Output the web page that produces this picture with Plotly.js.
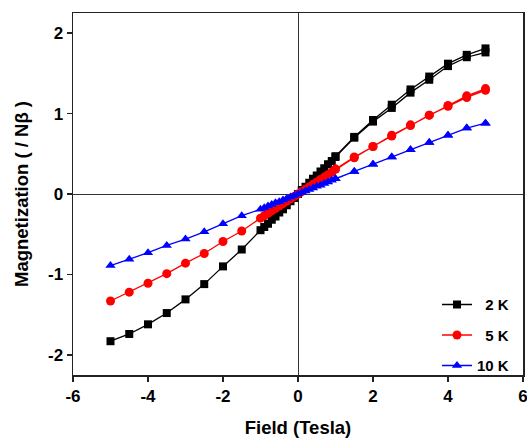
<!DOCTYPE html>
<html>
<head>
<meta charset="utf-8">
<script src="https://cdn.plot.ly/plotly-3.0.1.min.js"></script>
<style>html,body{margin:0;padding:0;background:#fff;}#chart{width:527px;height:438px;}</style>
</head>
<body>
<div id="chart"></div>
<script>
// Field values (Tesla): coarse steps outside |H|<1, fine steps near zero
const fieldUp = [-5,-4.5,-4,-3.5,-3,-2.5,-2,-1.5,-1,-0.9,-0.8,-0.7,-0.6,-0.5,-0.4,-0.3,-0.2,-0.1,0,0.1,0.2,0.3,0.4,0.5,0.6,0.7,0.8,0.9,1,1.5,2,2.5,3,3.5,4,4.5,5];
const fieldBack = [5,4.5,4,3.5,3,2.5,2,1.5,1];

// 2 K
const m2K = [-1.83,-1.74,-1.62,-1.48,-1.31,-1.12,-0.90,-0.69,-0.45,-0.41,-0.37,-0.32,-0.28,-0.23,-0.19,-0.14,-0.09,-0.05,0,0.05,0.09,0.14,0.19,0.23,0.28,0.32,0.37,0.41,0.46,0.70,0.90,1.07,1.26,1.42,1.59,1.70,1.76];
const m2Kback = [1.81,1.73,1.62,1.46,1.30,1.11,0.92,0.71,0.47];
// 5 K
const m5K = [-1.33,-1.22,-1.11,-0.99,-0.86,-0.74,-0.59,-0.46,-0.30,-0.27,-0.24,-0.21,-0.18,-0.15,-0.12,-0.09,-0.06,-0.03,0,0.03,0.06,0.09,0.12,0.15,0.18,0.21,0.24,0.27,0.31,0.45,0.59,0.72,0.85,0.98,1.09,1.20,1.29];
const m5Kback = [1.31,1.22,1.10,0.98,0.86,0.73,0.59,0.46,0.31];
// 10 K
const m10K = [-0.89,-0.81,-0.73,-0.64,-0.56,-0.47,-0.37,-0.27,-0.19,-0.17,-0.15,-0.13,-0.11,-0.095,-0.075,-0.057,-0.038,-0.019,0,0.019,0.038,0.057,0.075,0.095,0.11,0.13,0.15,0.17,0.19,0.28,0.37,0.46,0.55,0.64,0.73,0.82,0.88];
const m10Kback = [0.88,0.82,0.73,0.64,0.55,0.46,0.37,0.28,0.19];

const names = ["\u20072 K", "\u20075 K", "10 K"];
const xTicks = [-6,-4,-2,0,2,4,6];
const yTicks = [-2,-1,0,1,2];

const series = [
  {y: m2K, yb: m2Kback, color: "#000000", symbol: "square", size: 8},
  {y: m5K, yb: m5Kback, color: "#ff0000", symbol: "circle", size: 9},
  {y: m10K, yb: m10Kback, color: "#0000ff", symbol: "triangle-up", size: 9}
];

const traces = series.map((s, i) => ({
  x: fieldUp.concat(fieldBack),
  y: s.y.concat(s.yb),
  name: names[i],
  legendgroup: "g" + i,
  type: "scatter",
  mode: "lines+markers",
  line: {color: s.color, width: 1.3},
  marker: {color: s.color, symbol: s.symbol, size: s.size}
}));

const fam = "Liberation Sans, Arial, sans-serif";

const layout = {
  width: 527, height: 438,
  margin: {l: 73, r: 4, t: 13, b: 63},
  paper_bgcolor: "#fff", plot_bgcolor: "#fff",
  showlegend: true,
  font: {family: fam, color: "#000"},
  legend: {
    x: 0.98, y: -0.02, xanchor: "right", yanchor: "bottom",
    bgcolor: "rgba(0,0,0,0)",
    traceorder: "grouped", tracegroupgap: 8,
    font: {family: fam, size: 15, color: "#000", weight: "bold"}
  },
  xaxis: {
    range: [-6, 6], tickvals: xTicks, ticktext: xTicks.map(String),
    ticklabeloverflow: "allow",
    showgrid: false, zeroline: true, zerolinecolor: "#333", zerolinewidth: 1,
    showline: true, linecolor: "#222", linewidth: 1.5, mirror: true,
    ticks: "outside", ticklen: 5, tickwidth: 1.5, tickcolor: "#222",
    tickfont: {family: fam, size: 17, color: "#000", weight: "bold"},
    title: {text: "Field (Tesla)", font: {family: fam, size: 18.5, color: "#000", weight: "bold"}, standoff: 18}
  },
  yaxis: {
    range: [-2.25, 2.25], tickvals: yTicks, ticktext: yTicks.map(String),
    ticklabeloverflow: "allow",
    showgrid: false, zeroline: true, zerolinecolor: "#333", zerolinewidth: 1,
    showline: true, linecolor: "#222", linewidth: 1.5, mirror: true,
    ticks: "outside", ticklen: 5, tickwidth: 1.5, tickcolor: "#222",
    tickfont: {family: fam, size: 17, color: "#000", weight: "bold"},
    title: {text: "Magnetization ( / N\u03b2 )", font: {family: fam, size: 18.5, color: "#000", weight: "bold"}, standoff: 14}
  }
};

Plotly.newPlot("chart", traces, layout, {displayModeBar: false, staticPlot: true});
</script>
</body>
</html>
